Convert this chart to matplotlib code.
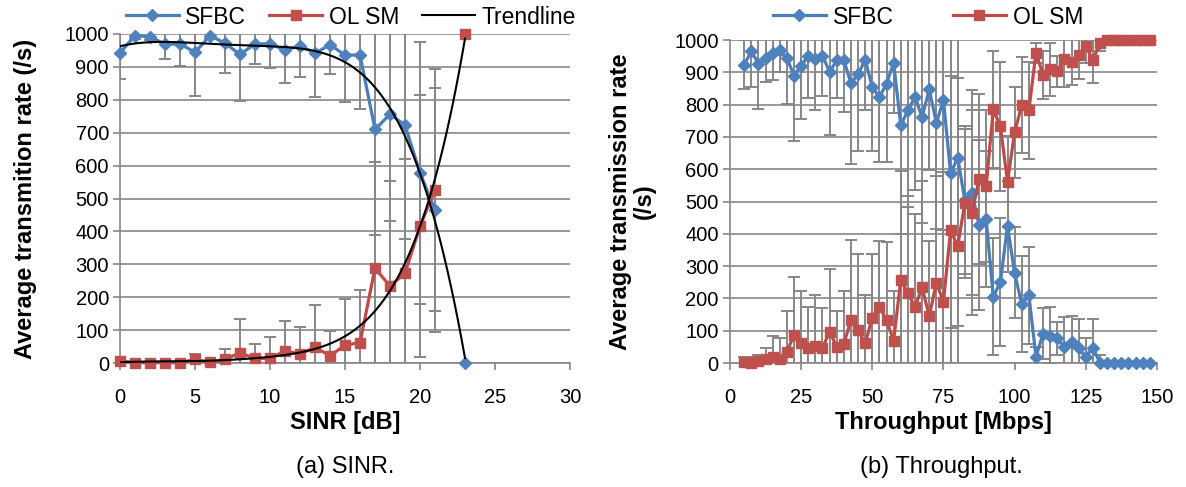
import numpy as np
import matplotlib.pyplot as plt
from matplotlib.lines import Line2D

plt.rcParams['font.family'] = ['Liberation Sans', 'DejaVu Sans']

# ---- (a) rate vs SINR, 22 dB has no sample ----
sinr = [0, 1, 2, 3, 4, 5, 6, 7, 8, 9, 10, 11, 12, 13, 14, 15, 16, 17, 18, 19, 20, 21, 22, 23]
sinr_sfbc = [943, 995, 992, 969, 970, 944, 995, 972, 938, 970, 970, 951, 964, 942, 967, 936,
             936, 710, 756, 723, 578, 465, np.nan, 0]
sinr_sfbc_err = [80, 10, 10, 45, 66, 132, 10, 92, 142, 61, 74, 101, 96, 133, 88, 142,
                 164, 321, 324, 347, 399, 370, np.nan, 0]
sinr_olsm = [7, 1, 1, 1, 1, 11, 2, 11, 31, 14, 14, 37, 27, 48, 22, 54,
             62, 288, 234, 273, 416, 526, np.nan, 1000]
sinr_olsm_err = [12, 3, 3, 3, 3, 16, 3, 32, 102, 44, 64, 91, 83, 127, 75, 140,
                 160, 322, 319, 346, 399, 367, np.nan, 0]

# ---- (b) rate vs throughput ----
tput = [5, 7.5, 10, 12.5, 15, 17.5, 20, 22.5, 25, 27.5, 30, 32.5, 35, 37.5, 40, 42.5,
        45, 47.5, 50, 52.5, 55, 57.5, 60, 62.5, 65, 67.5, 70, 72.5, 75, 77.5, 80, 82.5,
        85, 87.5, 90, 92.5, 95, 97.5, 100, 102.5, 105, 107.5, 110, 112.5, 115, 117.5,
        120, 122.5, 125, 127.5, 130, 132.5, 135, 137.5, 140, 142.5, 145, 147.5]
tput_sfbc = [924, 965, 927, 944, 961, 968, 944, 890, 921, 950, 940, 952, 901, 937, 937, 867,
             894, 939, 854, 823, 865, 929, 736, 782, 823, 762, 847, 744, 813, 587, 636, 505,
             527, 427, 445, 205, 251, 424, 279, 182, 210, 20, 91, 85, 76, 50,
             64, 45, 20, 47, 0, 0, 0, 0, 0, 0, 0, 0]
tput_sfbc_err = [77, 110, 142, 74, 86, 67, 141, 203, 167, 128, 156, 126, 196, 115, 160, 250,
                 238, 155, 198, 202, 244, 154, 338, 300, 287, 330, 250, 330, 400, 480, 520, 230,
                 317, 263, 210, 181, 199, 141, 141, 149, 150, 30, 80, 88, 52, 91,
                 82, 90, 56, 90, 24, 0, 0, 0, 0, 0, 0, 0]
tput_olsm = [2, 0, 6, 12, 20, 11, 35, 87, 63, 47, 54, 47, 97, 50, 59, 133,
             102, 61, 140, 174, 133, 69, 257, 216, 174, 234, 145, 248, 190, 411, 362, 494,
             465, 569, 548, 785, 733, 561, 715, 798, 782, 960, 892, 910, 904, 940,
             932, 954, 980, 939, 990, 1000, 1000, 1000, 1000, 1000, 1000, 1000]
tput_olsm_err = [16, 18, 19, 33, 63, 65, 127, 178, 161, 127, 156, 122, 194, 112, 164, 247,
                 237, 151, 199, 204, 242, 155, 338, 300, 287, 330, 233, 330, 400, 479, 521, 230,
                 317, 263, 234, 181, 199, 141, 141, 149, 150, 30, 74, 82, 48, 84,
                 70, 74, 50, 73, 24, 0, 0, 0, 0, 0, 0, 0]

BLUE_LINE, BLUE = '#4A7EBB', '#4F81BD'
RED_LINE, RED = '#BE4B48', '#C0504D'
GRAY = '#878787'

fig = plt.figure(figsize=(11.86, 4.87), dpi=100)
ax1 = fig.add_axes([0.1012, 0.2546, 0.3794, 0.6756])
ax2 = fig.add_axes([0.6155, 0.2546, 0.3600, 0.6632])


def draw_panel(ax, x, sfbc, sfbc_err, olsm, olsm_err):
    ax.errorbar(x, sfbc, yerr=sfbc_err, fmt='none', ecolor=GRAY, elinewidth=1.4,
                capsize=4, capthick=1.4, zorder=2)
    ax.errorbar(x, olsm, yerr=olsm_err, fmt='none', ecolor=GRAY, elinewidth=1.4,
                capsize=4, capthick=1.4, zorder=2)
    ax.plot(x, sfbc, color=BLUE_LINE, lw=2.3, marker='D', ms=6, mfc=BLUE, mec=BLUE,
            zorder=3, clip_on=False)
    ax.plot(x, olsm, color=RED_LINE, lw=2.3, marker='s', ms=6.5, mfc=RED, mec=RED,
            zorder=4, clip_on=False)
    ax.set_ylim(0, 1000)
    ax.set_yticks(range(0, 1001, 100))
    ax.yaxis.grid(True, color=GRAY, lw=1.2)
    ax.set_axisbelow(True)
    for s in ['top', 'right']:
        ax.spines[s].set_visible(False)
    for s in ['left', 'bottom']:
        ax.spines[s].set_color(GRAY)
        ax.spines[s].set_linewidth(1.2)
    ax.tick_params(direction='out', length=5, width=1.2, color=GRAY,
                   labelsize=14.5, pad=3)
    ax.tick_params(axis='x', pad=13)


draw_panel(ax1, sinr, sinr_sfbc, sinr_sfbc_err, sinr_olsm, sinr_olsm_err)
draw_panel(ax2, tput, tput_sfbc, tput_sfbc_err, tput_olsm, tput_olsm_err)

# polynomial trendlines (order 5) over the SINR samples
xs = np.array(sinr, dtype=float)
xfit = np.linspace(0, 23, 300)
for ys in (sinr_sfbc, sinr_olsm):
    ys = np.array(ys, dtype=float)
    ok = ~np.isnan(ys)
    coef = np.polyfit(xs[ok], ys[ok], 5)
    ax1.plot(xfit, np.polyval(coef, xfit), color='black', lw=1.5, zorder=5)

ax1.set_xlim(0, 30)
ax1.set_xticks(range(0, 31, 5))
ax2.set_xlim(0, 150)
ax2.set_xticks(range(0, 151, 25))

ax1.set_xlabel('SINR [dB]', fontsize=17, fontweight='bold', labelpad=3)
ax1.set_ylabel('Average transmition rate (/s)', fontsize=17, fontweight='bold', labelpad=20)
ax2.set_xlabel('Throughput [Mbps]', fontsize=17, fontweight='bold', labelpad=3)
ax2.set_ylabel('Average transmission rate\n(/s)', fontsize=17, fontweight='bold',
               labelpad=13, linespacing=1.1)

h_sfbc = Line2D([], [], color=BLUE_LINE, lw=2.3, marker='D', ms=6, mfc=BLUE, mec=BLUE)
h_olsm = Line2D([], [], color=RED_LINE, lw=2.3, marker='s', ms=6.5, mfc=RED, mec=RED)
h_trend = Line2D([], [], color='black', lw=1.5)

fig.legend([h_sfbc, h_olsm, h_trend], ['SFBC', 'OL SM', 'Trendline'], ncol=3,
           loc='center', bbox_to_anchor=(351 / 1186, 1 - 17 / 487), frameon=False,
           fontsize=16.5, handlelength=2.3, handletextpad=0.3, columnspacing=1.0,
           borderpad=0)
fig.legend([h_sfbc, h_olsm], ['SFBC', 'OL SM'], ncol=2,
           loc='center', bbox_to_anchor=(928 / 1186, 1 - 17 / 487), frameon=False,
           fontsize=16.5, handlelength=2.3, handletextpad=0.3, columnspacing=2.6,
           borderpad=0)

fig.text(345 / 1186, 1 - 467 / 487, '(a) SINR.', ha='center', va='center', fontsize=17)
fig.text(941 / 1186, 1 - 467 / 487, '(b) Throughput.', ha='center', va='center', fontsize=17)

fig.savefig('out.png', dpi=100)
